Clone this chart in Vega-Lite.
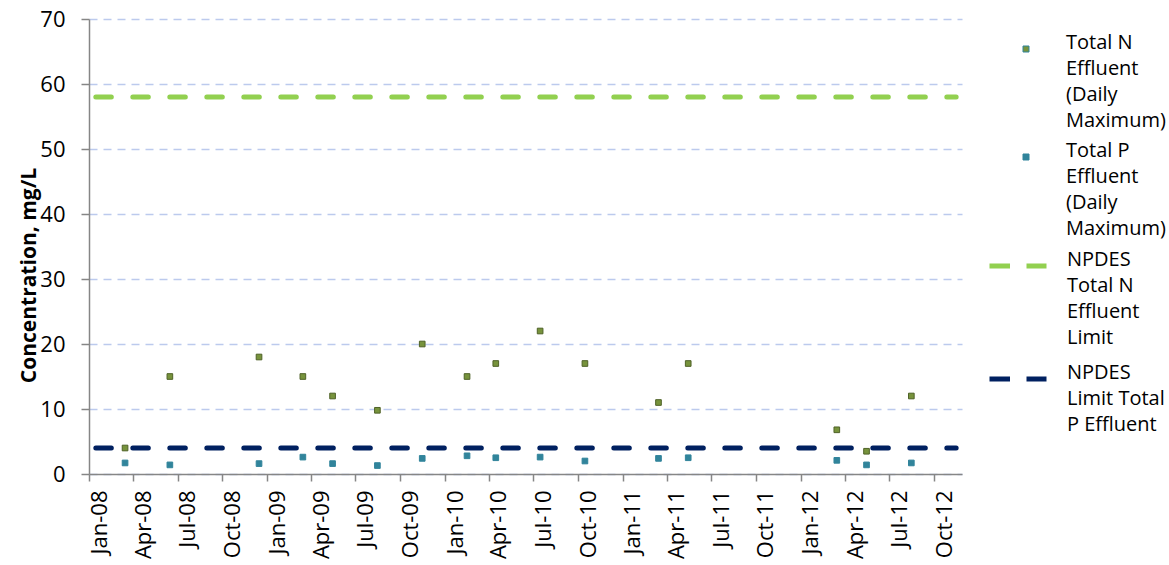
{
  "$schema": "https://vega.github.io/schema/vega-lite/v6.json",
  "width": 873,
  "height": 455,
  "autosize": {"type": "none"},
  "padding": {"left": 89, "top": 19, "right": 207, "bottom": 91},
  "config": {
    "font": "Open Sans",
    "view": {"stroke": null},
    "style": {"guide-label": {"lineHeight": 26}},
    "axis": {"labelColor": "#000000", "titleColor": "#000000", "domainColor": "#868686", "tickColor": "#868686", "domainWidth": 1.5, "tickWidth": 1.5}
  },
  "data": {
    "values": [
      {"date": "2008-03-15", "value": 4, "series": "Total N Effluent (Daily Maximum)"},
      {"date": "2008-06-15", "value": 15, "series": "Total N Effluent (Daily Maximum)"},
      {"date": "2008-12-15", "value": 18, "series": "Total N Effluent (Daily Maximum)"},
      {"date": "2009-03-15", "value": 15, "series": "Total N Effluent (Daily Maximum)"},
      {"date": "2009-05-15", "value": 12, "series": "Total N Effluent (Daily Maximum)"},
      {"date": "2009-08-15", "value": 9.8, "series": "Total N Effluent (Daily Maximum)"},
      {"date": "2009-11-15", "value": 20, "series": "Total N Effluent (Daily Maximum)"},
      {"date": "2010-02-15", "value": 15, "series": "Total N Effluent (Daily Maximum)"},
      {"date": "2010-04-15", "value": 17, "series": "Total N Effluent (Daily Maximum)"},
      {"date": "2010-07-15", "value": 22, "series": "Total N Effluent (Daily Maximum)"},
      {"date": "2010-10-15", "value": 17, "series": "Total N Effluent (Daily Maximum)"},
      {"date": "2011-03-15", "value": 11, "series": "Total N Effluent (Daily Maximum)"},
      {"date": "2011-05-15", "value": 17, "series": "Total N Effluent (Daily Maximum)"},
      {"date": "2012-03-15", "value": 6.8, "series": "Total N Effluent (Daily Maximum)"},
      {"date": "2012-05-15", "value": 3.5, "series": "Total N Effluent (Daily Maximum)"},
      {"date": "2012-08-15", "value": 12, "series": "Total N Effluent (Daily Maximum)"},
      {"date": "2008-03-15", "value": 1.7, "series": "Total P Effluent (Daily Maximum)"},
      {"date": "2008-06-15", "value": 1.4, "series": "Total P Effluent (Daily Maximum)"},
      {"date": "2008-12-15", "value": 1.6, "series": "Total P Effluent (Daily Maximum)"},
      {"date": "2009-03-15", "value": 2.6, "series": "Total P Effluent (Daily Maximum)"},
      {"date": "2009-05-15", "value": 1.6, "series": "Total P Effluent (Daily Maximum)"},
      {"date": "2009-08-15", "value": 1.3, "series": "Total P Effluent (Daily Maximum)"},
      {"date": "2009-11-15", "value": 2.4, "series": "Total P Effluent (Daily Maximum)"},
      {"date": "2010-02-15", "value": 2.8, "series": "Total P Effluent (Daily Maximum)"},
      {"date": "2010-04-15", "value": 2.5, "series": "Total P Effluent (Daily Maximum)"},
      {"date": "2010-07-15", "value": 2.6, "series": "Total P Effluent (Daily Maximum)"},
      {"date": "2010-10-15", "value": 2.0, "series": "Total P Effluent (Daily Maximum)"},
      {"date": "2011-03-15", "value": 2.4, "series": "Total P Effluent (Daily Maximum)"},
      {"date": "2011-05-15", "value": 2.5, "series": "Total P Effluent (Daily Maximum)"},
      {"date": "2012-03-15", "value": 2.1, "series": "Total P Effluent (Daily Maximum)"},
      {"date": "2012-05-15", "value": 1.4, "series": "Total P Effluent (Daily Maximum)"},
      {"date": "2012-08-15", "value": 1.7, "series": "Total P Effluent (Daily Maximum)"},
      {"date": "2008-01-15", "value": 58, "series": "NPDES Total N Effluent Limit"},
      {"date": "2012-11-15", "value": 58, "series": "NPDES Total N Effluent Limit"},
      {"date": "2008-01-15", "value": 4, "series": "NPDES Limit Total P Effluent"},
      {"date": "2012-11-15", "value": 4, "series": "NPDES Limit Total P Effluent"}
    ]
  },
  "encoding": {
    "x": {
      "field": "date", "type": "temporal",
      "scale": {"type": "utc", "domain": [{"year": 2008, "month": 1, "date": 1, "utc": true}, {"year": 2012, "month": 11, "date": 27, "utc": true}]},
      "axis": {
        "title": null, "grid": false, "format": "%b-%y",
        "tickCount": {"interval": "month", "step": 3},
        "labelAngle": -90, "labelAlign": "right", "labelBaseline": "top",
        "labelFontSize": 22, "tickSize": 7, "labelPadding": 9, "labelOverlap": false, "labelFlush": false
      }
    },
    "y": {
      "field": "value", "type": "quantitative",
      "scale": {"domain": [0, 70], "nice": false, "zero": true},
      "axis": {
        "title": "Concentration, mg/L", "titleFontSize": 21, "titleFontWeight": "bold",
        "titleX": -54, "titleY": 256, "titleBaseline": "alphabetic", "titleAngle": -90, "titleAlign": "center",
        "values": [0, 10, 20, 30, 40, 50, 60, 70],
        "labelFontSize": 22, "tickSize": 8, "labelPadding": 16,
        "grid": true, "gridDash": [8, 6], "gridWidth": 1.5, "gridColor": "#bccaed"
      }
    }
  },
  "layer": [
    {
      "transform": [{"filter": "indexof(datum.series, 'NPDES') == 0"}],
      "mark": {"type": "line", "strokeWidth": 5, "strokeDash": [15.5, 21.5], "strokeCap": "round"},
      "encoding": {
        "stroke": {
          "field": "series", "type": "nominal",
          "scale": {"domain": ["NPDES Total N Effluent Limit", "NPDES Limit Total P Effluent"], "range": ["#92d050", "#002060"]},
          "legend": {
            "title": null, "orient": "none", "legendX": 898, "legendY": 216,
            "padding": 0, "symbolType": "stroke", "symbolSize": 3249, "symbolDash": [20.5, 16.5], "symbolStrokeWidth": 5,
            "labelFontSize": 20, "labelColor": "#000000", "labelBaseline": "alphabetic", "labelOffset": 18,
            "rowPadding": -2, "labelLimit": 300,
            "labelExpr": "datum.label == 'NPDES Total N Effluent Limit' ? ['NPDES','Total N','Effluent','Limit'] : ['NPDES','Limit Total','P Effluent']"
          }
        }
      }
    },
    {
      "transform": [{"filter": "indexof(datum.series, 'NPDES') != 0"}],
      "mark": {"type": "square", "size": 32, "filled": true, "opacity": 1, "strokeWidth": 1},
      "encoding": {
        "fill": {
          "field": "series", "type": "nominal",
          "scale": {"domain": ["Total N Effluent (Daily Maximum)", "Total P Effluent (Daily Maximum)"], "range": ["#77933c", "#31849b"]},
          "legend": {
            "title": null, "orient": "none", "legendX": 927, "legendY": 20,
            "padding": 0, "symbolType": "square", "symbolSize": 36, "symbolStrokeWidth": 1, "symbolOpacity": 1,
            "labelFontSize": 20, "labelColor": "#000000", "labelBaseline": "alphabetic", "labelOffset": 30,
            "rowPadding": 10, "labelLimit": 300,
            "labelExpr": "datum.label == 'Total N Effluent (Daily Maximum)' ? ['Total N','Effluent','(Daily','Maximum)'] : ['Total P','Effluent','(Daily','Maximum)']"
          }
        },
        "stroke": {"condition": {"test": "datum.series == 'Total N Effluent (Daily Maximum)' || datum.value == 'Total N Effluent (Daily Maximum)'", "value": "#4f6228"}, "value": "#31849b"}
      }
    }
  ]
}
